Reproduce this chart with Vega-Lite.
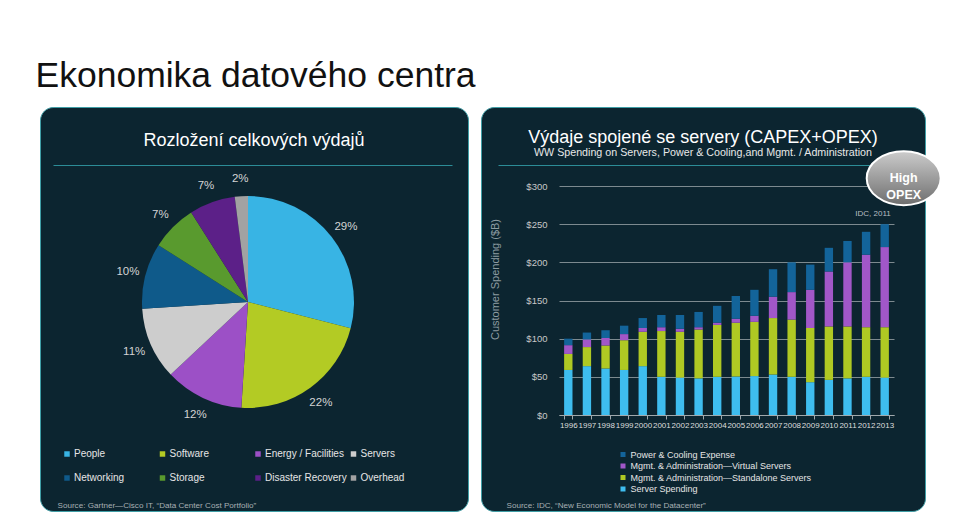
{
  "$schema": "https://vega.github.io/schema/vega-lite/v6.json",
  "background": "#ffffff",
  "padding": {"left": 35, "top": 59, "right": 20, "bottom": 9},
  "config": {"font": "Liberation Sans", "view": {"stroke": null}},
  "title": {"text": "Ekonomika datového centra", "anchor": "start", "fontSize": 35.5, "fontWeight": "normal", "color": "#111111", "dx": -4, "offset": 12},
  "spacing": 11,
  "resolve": {"scale": {"color": "independent"}, "legend": {"color": "independent"}},
  "hconcat": [
    {
      "width": 428,
      "height": 404,
      "view": {"fill": "#0c2530", "stroke": "#3f9ea6", "strokeWidth": 1, "cornerRadius": 13},
      "title": {"text": "Rozložení celkových výdajů", "color": "#ffffff", "fontSize": 18, "fontWeight": "normal", "anchor": "middle", "offset": -43},
      "layer": [
        {
          "data": {"values": [{"d": 0}]},
          "mark": {"type": "point", "opacity": 0},
          "encoding": {
            "x": {"field": "d", "type": "quantitative", "scale": {"domain": [0, 1], "range": [13, 412]},
              "axis": {"orient": "top", "offset": -58, "domainColor": "#2c8d97", "domainWidth": 1, "ticks": false, "labels": false, "grid": false,
                "title": "Source: Gartner—Cisco IT, “Data Center Cost Portfolio”", "titleX": 17, "titleY": 340, "titleAlign": "left", "titleBaseline": "middle", "titleAngle": 0,
                "titleFontSize": 8.1, "titleFontWeight": "normal", "titleColor": "#a8b0b4"}}
          }
        },
        {
          "data": {"values": [
            {"category": "People", "pct": 29, "label": "29%", "n": 1},
            {"category": "Software", "pct": 22, "label": "22%", "n": 2},
            {"category": "Energy / Facilities", "pct": 12, "label": "12%", "n": 3},
            {"category": "Servers", "pct": 11, "label": "11%", "n": 4},
            {"category": "Networking", "pct": 10, "label": "10%", "n": 5},
            {"category": "Storage", "pct": 7, "label": "7%", "n": 6},
            {"category": "Disaster Recovery", "pct": 7, "label": "7%", "n": 7},
            {"category": "Overhead", "pct": 2, "label": "2%", "n": 8}
          ]},
          "encoding": {
            "theta": {"field": "pct", "type": "quantitative", "stack": true},
            "order": {"field": "n", "type": "quantitative"}
          },
          "layer": [
            {
              "mark": {"type": "arc", "outerRadius": 106, "xOffset": -6, "yOffset": -7},
              "encoding": {
                "color": {"field": "category", "type": "nominal",
                  "scale": {"domain": ["People", "Software", "Energy / Facilities", "Servers", "Networking", "Storage", "Disaster Recovery", "Overhead"],
                    "range": ["#38b4e4", "#b3cb24", "#9c50c6", "#cdcdcd", "#0f5a8a", "#599a2e", "#5c2088", "#a2a2a2"]},
                  "legend": {"title": null, "orient": "none", "legendX": 22, "legendY": 342, "direction": "horizontal", "columns": 4, "gridAlign": "all",
                    "columnPadding": 1.5, "rowPadding": 14, "padding": 0, "symbolType": "square", "symbolSize": 30, "symbolStrokeWidth": 0,
                    "labelColor": "#e6e6e6", "labelFontSize": 10, "labelOffset": 2, "labelLimit": 200}}
              }
            },
            {
              "mark": {"type": "text", "radius": 124, "xOffset": -6, "yOffset": -6, "fontSize": 11.5, "fill": "#d4d4d4"},
              "encoding": {
                "text": {"field": "label", "type": "nominal"},
                "detail": {"field": "category", "type": "nominal"}
              }
            }
          ]
        }
      ]
    },
    {
      "width": 444,
      "height": 404,
      "view": {"fill": "#0c2530", "stroke": "#3f9ea6", "strokeWidth": 1, "cornerRadius": 13},
      "title": {"text": "Výdaje spojené se servery (CAPEX+OPEX)", "subtitle": "WW Spending on Servers, Power & Cooling,and Mgmt. / Administration",
        "color": "#ffffff", "subtitleColor": "#e8e8e8", "fontSize": 18, "subtitleFontSize": 10.7, "fontWeight": "normal", "anchor": "middle", "offset": -50.5, "subtitlePadding": 1},
      "resolve": {"scale": {"x": "independent", "y": "independent"}},
      "layer": [
        {
          "data": {"values": [{"d": 0}]},
          "mark": {"type": "point", "opacity": 0},
          "encoding": {
            "x": {"field": "d", "type": "quantitative", "scale": {"domain": [0, 1], "range": [17, 427]},
              "axis": {"orient": "top", "offset": -58, "domainColor": "#2c8d97", "domainWidth": 1, "ticks": false, "labels": false, "grid": false,
                "title": "Source: IDC, “New Economic Model for the Datacenter”", "titleX": 25, "titleY": 340, "titleAlign": "left", "titleBaseline": "middle", "titleAngle": 0,
                "titleFontSize": 8.1, "titleFontWeight": "normal", "titleColor": "#a8b0b4"}}
          }
        },
        {
          "layer": [
            {
              "data": {"values": [
                {"year": "1996", "series": "Server Spending", "value": 59, "n": 1},
                {"year": "1996", "series": "Mgmt. & Administration—Standalone Servers", "value": 21, "n": 2},
                {"year": "1996", "series": "Mgmt. & Administration—Virtual Servers", "value": 11.5, "n": 3},
                {"year": "1996", "series": "Power & Cooling Expense", "value": 8.5, "n": 4},
                {"year": "1997", "series": "Server Spending", "value": 64, "n": 1},
                {"year": "1997", "series": "Mgmt. & Administration—Standalone Servers", "value": 25, "n": 2},
                {"year": "1997", "series": "Mgmt. & Administration—Virtual Servers", "value": 10, "n": 3},
                {"year": "1997", "series": "Power & Cooling Expense", "value": 9, "n": 4},
                {"year": "1998", "series": "Server Spending", "value": 61, "n": 1},
                {"year": "1998", "series": "Mgmt. & Administration—Standalone Servers", "value": 30, "n": 2},
                {"year": "1998", "series": "Mgmt. & Administration—Virtual Servers", "value": 10, "n": 3},
                {"year": "1998", "series": "Power & Cooling Expense", "value": 10, "n": 4},
                {"year": "1999", "series": "Server Spending", "value": 59, "n": 1},
                {"year": "1999", "series": "Mgmt. & Administration—Standalone Servers", "value": 39, "n": 2},
                {"year": "1999", "series": "Mgmt. & Administration—Virtual Servers", "value": 8, "n": 3},
                {"year": "1999", "series": "Power & Cooling Expense", "value": 11, "n": 4},
                {"year": "2000", "series": "Server Spending", "value": 64, "n": 1},
                {"year": "2000", "series": "Mgmt. & Administration—Standalone Servers", "value": 45, "n": 2},
                {"year": "2000", "series": "Mgmt. & Administration—Virtual Servers", "value": 5, "n": 3},
                {"year": "2000", "series": "Power & Cooling Expense", "value": 13, "n": 4},
                {"year": "2001", "series": "Server Spending", "value": 50, "n": 1},
                {"year": "2001", "series": "Mgmt. & Administration—Standalone Servers", "value": 60, "n": 2},
                {"year": "2001", "series": "Mgmt. & Administration—Virtual Servers", "value": 5, "n": 3},
                {"year": "2001", "series": "Power & Cooling Expense", "value": 16, "n": 4},
                {"year": "2002", "series": "Server Spending", "value": 49, "n": 1},
                {"year": "2002", "series": "Mgmt. & Administration—Standalone Servers", "value": 60, "n": 2},
                {"year": "2002", "series": "Mgmt. & Administration—Virtual Servers", "value": 4, "n": 3},
                {"year": "2002", "series": "Power & Cooling Expense", "value": 18, "n": 4},
                {"year": "2003", "series": "Server Spending", "value": 48, "n": 1},
                {"year": "2003", "series": "Mgmt. & Administration—Standalone Servers", "value": 64, "n": 2},
                {"year": "2003", "series": "Mgmt. & Administration—Virtual Servers", "value": 3, "n": 3},
                {"year": "2003", "series": "Power & Cooling Expense", "value": 20, "n": 4},
                {"year": "2004", "series": "Server Spending", "value": 50, "n": 1},
                {"year": "2004", "series": "Mgmt. & Administration—Standalone Servers", "value": 68, "n": 2},
                {"year": "2004", "series": "Mgmt. & Administration—Virtual Servers", "value": 3, "n": 3},
                {"year": "2004", "series": "Power & Cooling Expense", "value": 22, "n": 4},
                {"year": "2005", "series": "Server Spending", "value": 50.5, "n": 1},
                {"year": "2005", "series": "Mgmt. & Administration—Standalone Servers", "value": 70.5, "n": 2},
                {"year": "2005", "series": "Mgmt. & Administration—Virtual Servers", "value": 5, "n": 3},
                {"year": "2005", "series": "Power & Cooling Expense", "value": 30, "n": 4},
                {"year": "2006", "series": "Server Spending", "value": 51, "n": 1},
                {"year": "2006", "series": "Mgmt. & Administration—Standalone Servers", "value": 71, "n": 2},
                {"year": "2006", "series": "Mgmt. & Administration—Virtual Servers", "value": 8, "n": 3},
                {"year": "2006", "series": "Power & Cooling Expense", "value": 34, "n": 4},
                {"year": "2007", "series": "Server Spending", "value": 53, "n": 1},
                {"year": "2007", "series": "Mgmt. & Administration—Standalone Servers", "value": 74, "n": 2},
                {"year": "2007", "series": "Mgmt. & Administration—Virtual Servers", "value": 28, "n": 3},
                {"year": "2007", "series": "Power & Cooling Expense", "value": 36, "n": 4},
                {"year": "2008", "series": "Server Spending", "value": 50, "n": 1},
                {"year": "2008", "series": "Mgmt. & Administration—Standalone Servers", "value": 75, "n": 2},
                {"year": "2008", "series": "Mgmt. & Administration—Virtual Servers", "value": 36, "n": 3},
                {"year": "2008", "series": "Power & Cooling Expense", "value": 39, "n": 4},
                {"year": "2009", "series": "Server Spending", "value": 43, "n": 1},
                {"year": "2009", "series": "Mgmt. & Administration—Standalone Servers", "value": 71, "n": 2},
                {"year": "2009", "series": "Mgmt. & Administration—Virtual Servers", "value": 50, "n": 3},
                {"year": "2009", "series": "Power & Cooling Expense", "value": 33, "n": 4},
                {"year": "2010", "series": "Server Spending", "value": 46, "n": 1},
                {"year": "2010", "series": "Mgmt. & Administration—Standalone Servers", "value": 70, "n": 2},
                {"year": "2010", "series": "Mgmt. & Administration—Virtual Servers", "value": 72, "n": 3},
                {"year": "2010", "series": "Power & Cooling Expense", "value": 31, "n": 4},
                {"year": "2011", "series": "Server Spending", "value": 48, "n": 1},
                {"year": "2011", "series": "Mgmt. & Administration—Standalone Servers", "value": 68, "n": 2},
                {"year": "2011", "series": "Mgmt. & Administration—Virtual Servers", "value": 84, "n": 3},
                {"year": "2011", "series": "Power & Cooling Expense", "value": 28, "n": 4},
                {"year": "2012", "series": "Server Spending", "value": 50, "n": 1},
                {"year": "2012", "series": "Mgmt. & Administration—Standalone Servers", "value": 65, "n": 2},
                {"year": "2012", "series": "Mgmt. & Administration—Virtual Servers", "value": 95, "n": 3},
                {"year": "2012", "series": "Power & Cooling Expense", "value": 30, "n": 4},
                {"year": "2013", "series": "Server Spending", "value": 49, "n": 1},
                {"year": "2013", "series": "Mgmt. & Administration—Standalone Servers", "value": 66, "n": 2},
                {"year": "2013", "series": "Mgmt. & Administration—Virtual Servers", "value": 105, "n": 3},
                {"year": "2013", "series": "Power & Cooling Expense", "value": 30, "n": 4}
              ]},
              "mark": {"type": "bar"},
              "encoding": {
                "x": {"field": "year", "type": "nominal", "scale": {"range": [78, 413], "paddingInner": 0.55, "paddingOuter": 0.275},
                  "axis": {"orient": "bottom", "offset": -96, "title": null, "labelAngle": 0, "labelFontSize": 8, "labelColor": "#dddddd", "labelPadding": 2,
                    "labelOverlap": false, "labelBound": false, "domainColor": "#a0a8ac", "tickColor": "#a0a8ac", "tickSize": 4, "tickBand": "extent", "grid": false}},
                "y": {"field": "value", "type": "quantitative", "stack": "zero", "scale": {"domain": [0, 300], "range": [308, 79], "nice": false, "zero": true},
                  "axis": {"orient": "left", "offset": -78, "values": [0, 50, 100, 150, 200, 250, 300], "format": "$.0f", "labelFontSize": 9.5, "labelColor": "#c8c8c8",
                    "labelPadding": 12, "ticks": false, "tickSize": 0, "domain": false, "grid": true, "gridColor": "#7d8a8f", "gridWidth": 1,
                    "title": "Customer Spending ($B)", "titleColor": "#8d9ba1", "titleFontSize": 11, "titleFontWeight": "normal", "titleX": -64, "titleY": 172, "titleBaseline": "middle"}},
                "color": {"field": "series", "type": "nominal",
                  "scale": {"domain": ["Power & Cooling Expense", "Mgmt. & Administration—Virtual Servers", "Mgmt. & Administration—Standalone Servers", "Server Spending"],
                    "range": ["#13649a", "#a157c8", "#afc923", "#3ebdef"]},
                  "legend": {"title": null, "orient": "none", "legendX": 137.5, "legendY": 343, "direction": "vertical", "padding": 0, "symbolType": "square", "symbolSize": 25,
                    "symbolStrokeWidth": 0, "labelFontSize": 9, "labelColor": "#e6e6e6", "rowPadding": 1.5, "labelOffset": 3, "labelLimit": 300}},
                "order": {"field": "n", "type": "quantitative"}
              }
            },
            {
              "data": {"values": [{"year": "2013", "value": 250}]},
              "mark": {"type": "point", "shape": "M-1,0A1,0.73,0,1,0,1,0A1,0.73,0,1,0,-1,0Z", "size": 5476, "filled": true, "opacity": 1,
                "fill": {"gradient": "linear", "x1": 0, "y1": 0, "x2": 0, "y2": 1, "stops": [{"offset": 0, "color": "#cccccc"}, {"offset": 1, "color": "#6e6e6e"}]},
                "stroke": "#ffffff", "strokeWidth": 2, "xOffset": 19, "yOffset": -46},
              "encoding": {
                "x": {"field": "year", "type": "nominal"},
                "y": {"field": "value", "type": "quantitative"}
              }
            },
            {
              "data": {"values": [{"year": "2013", "value": 250, "note": "High\nOPEX"}]},
              "mark": {"type": "text", "lineBreak": "\n", "lineHeight": 17, "fontSize": 12.5, "fontWeight": "bold", "fill": "#ffffff", "align": "center", "baseline": "middle", "xOffset": 19, "yOffset": -46},
              "encoding": {
                "x": {"field": "year", "type": "nominal"},
                "y": {"field": "value", "type": "quantitative"},
                "text": {"field": "note", "type": "nominal"}
              }
            },
            {
              "data": {"values": [{"year": "2013", "value": 250, "note": "IDC, 2011"}]},
              "mark": {"type": "text", "fontSize": 8, "fill": "#b8bec2", "align": "right", "baseline": "middle", "xOffset": 6, "yOffset": -10},
              "encoding": {
                "x": {"field": "year", "type": "nominal"},
                "y": {"field": "value", "type": "quantitative"},
                "text": {"field": "note", "type": "nominal"}
              }
            }
          ]
        }
      ]
    }
  ]
}
